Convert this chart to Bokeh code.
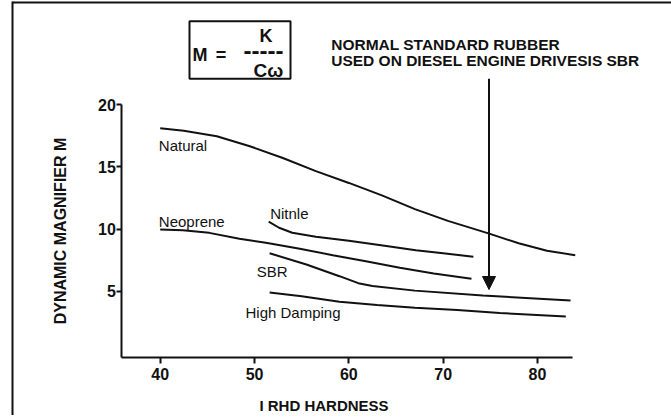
from bokeh.plotting import figure
from bokeh.models import (Label, Arrow, NormalHead, BoxAnnotation, FixedTicker,
                          Range1d, LinearAxis)
from bokeh.core.properties import value
from bokeh.embed import file_html
from bokeh.resources import INLINE

FONT = "Liberation Sans"
INK = "#111111"

# ---- data ----
natural_x = [40, 42.5, 46, 49.5, 53, 56.5, 60, 63.5, 67, 70.5, 74.8, 78, 81, 84]
natural_y = [18.1, 17.9, 17.45, 16.65, 15.7, 14.65, 13.7, 12.7, 11.6, 10.65, 9.65, 8.85, 8.25, 7.9]

neoprene_x = [40, 42.4, 45.2, 48.4, 51.2, 54.8, 58.3, 61.8, 65.4, 69, 73]
neoprene_y = [9.96, 9.9, 9.69, 9.21, 8.89, 8.41, 7.9, 7.41, 6.88, 6.42, 6.0]

nitnle_x = [51.5, 52.6, 54, 56.5, 60, 63.6, 67.1, 70, 73.2]
nitnle_y = [10.6, 10.1, 9.7, 9.37, 9.05, 8.67, 8.3, 8.05, 7.77]

sbr_x = [51.6, 55.5, 59, 61, 62.5, 67, 74.2, 83.5]
sbr_y = [8.05, 7.15, 6.21, 5.65, 5.42, 5.05, 4.66, 4.26]

high_damping_x = [51.6, 55, 59, 63, 67, 71.5, 76, 83]
high_damping_y = [4.9, 4.6, 4.15, 3.9, 3.68, 3.5, 3.25, 2.98]

x_ticks = [40, 50, 60, 70, 80]
y_ticks = [5, 10, 15, 20]

curve_names = ["Natural", "Neoprene", "Nitnle", "SBR", "High Damping"]

x_title = "I RHD HARDNESS"
y_title = "DYNAMIC MAGNIFIER M"
note_lines = ["NORMAL STANDARD RUBBER", "USED ON DIESEL ENGINE DRIVESIS SBR"]

# ---- layout constants ----
X_AXIS_BOUNDS = (35.93, 83.68)
Y_AXIS_BOUNDS = (-0.3, 20)
W, H = 671, 415
TEXT_DY = -5.0          # compensation for where the renderer puts a text baseline

# curve name positions (picture pixels: left edge, baseline)
name_px = [159.3, 159.3, 270.7, 257.3, 246.0]
name_py = [151.0, 226.7, 219.3, 276.7, 318.3]


def dx(px):
    """picture pixel -> data x"""
    return 40 + (px - 160.7) / 9.433


def dy(py):
    """picture pixel -> data y"""
    return 20 - (py - 105) / 12.45


p = figure(frame_width=W, frame_height=H, min_border=0,
           x_range=Range1d(dx(1), dx(1 + W)), y_range=Range1d(dy(1 + H), dy(1)),
           x_axis_location=None, y_axis_location=None,
           output_backend="svg", toolbar_location=None)
p.outline_line_color = None
p.grid.visible = False
p.background_fill_color = "white"
p.border_fill_color = "white"

xaxis = LinearAxis(fixed_location=Y_AXIS_BOUNDS[0], bounds=X_AXIS_BOUNDS)
yaxis = LinearAxis(fixed_location=X_AXIS_BOUNDS[0], bounds=Y_AXIS_BOUNDS)
p.add_layout(xaxis, "below")
p.add_layout(yaxis, "left")

for ax, ticks, out in ((xaxis, x_ticks, 6), (yaxis, y_ticks, 5)):
    ax.ticker = FixedTicker(ticks=ticks)
    ax.axis_line_width = 2
    ax.axis_line_color = INK
    ax.major_tick_line_width = 2
    ax.major_tick_line_color = INK
    ax.major_tick_in = 0
    ax.major_tick_out = out
    ax.minor_tick_line_color = None
    ax.major_label_text_font = FONT
    ax.major_label_text_font_style = "bold"
    ax.major_label_text_font_size = "16px"
    ax.major_label_text_color = INK

xaxis.major_label_standoff = 5
yaxis.major_label_standoff = 1
yaxis.axis_label = y_title
yaxis.axis_label_text_font = FONT
yaxis.axis_label_text_font_style = "bold"
yaxis.axis_label_text_font_size = "16px"
yaxis.axis_label_text_color = INK
yaxis.axis_label_standoff = 26

for xs, ys in ((natural_x, natural_y), (neoprene_x, neoprene_y), (nitnle_x, nitnle_y),
               (sbr_x, sbr_y), (high_damping_x, high_damping_y)):
    p.line(xs, ys, line_width=2, line_color=INK)

p.text(x=[dx(v) for v in name_px], y=[dy(v + TEXT_DY) for v in name_py], text=curve_names,
       text_font=value(FONT), text_font_size="15px", text_color=INK, text_align="left",
       text_baseline="alphabetic")


def plabel(px, py, text, size, align="left", style="bold"):
    p.add_layout(Label(x=dx(px), y=dy(py + TEXT_DY), text=text,
                       text_font=FONT, text_font_style=style, text_font_size=size,
                       text_color=INK, text_align=align, text_baseline="alphabetic"))


def pline(x0, y0, x1, y1, color=INK, width=2, head=None):
    p.add_layout(Arrow(x_start=dx(x0), y_start=dy(y0), x_end=dx(x1), y_end=dy(y1),
                       end=head, line_width=width, line_color=color))


# x-axis title
plabel(324.5, 411, x_title, "15px", align="center")

# note and arrow
plabel(331.7, 50, note_lines[0], "15.5px")
plabel(331.7, 66, note_lines[1], "15.5px")
pline(489.5, 79.3, 489.5, 290,
      head=NormalHead(size=13, fill_color=INK, line_color=INK, line_width=1))

# formula box
p.add_layout(BoxAnnotation(left=dx(190), right=dx(291), top=dy(21.7), bottom=dy(79.3),
                           fill_alpha=0, line_color=INK, line_width=2, line_alpha=1))
plabel(193, 60, "M", "18px")
plabel(221.5, 60, "=", "18px", align="center")
plabel(266.5, 41.7, "K", "18px", align="center")
plabel(264, 56, "-----", "24px", align="center")
plabel(269, 75.5, "C\u03c9", "19px", align="center")

# picture frame lines
pline(13, 2, 13, 420)
pline(13, 3, 680, 3)

open("out.html", "w").write(file_html(p, INLINE))
